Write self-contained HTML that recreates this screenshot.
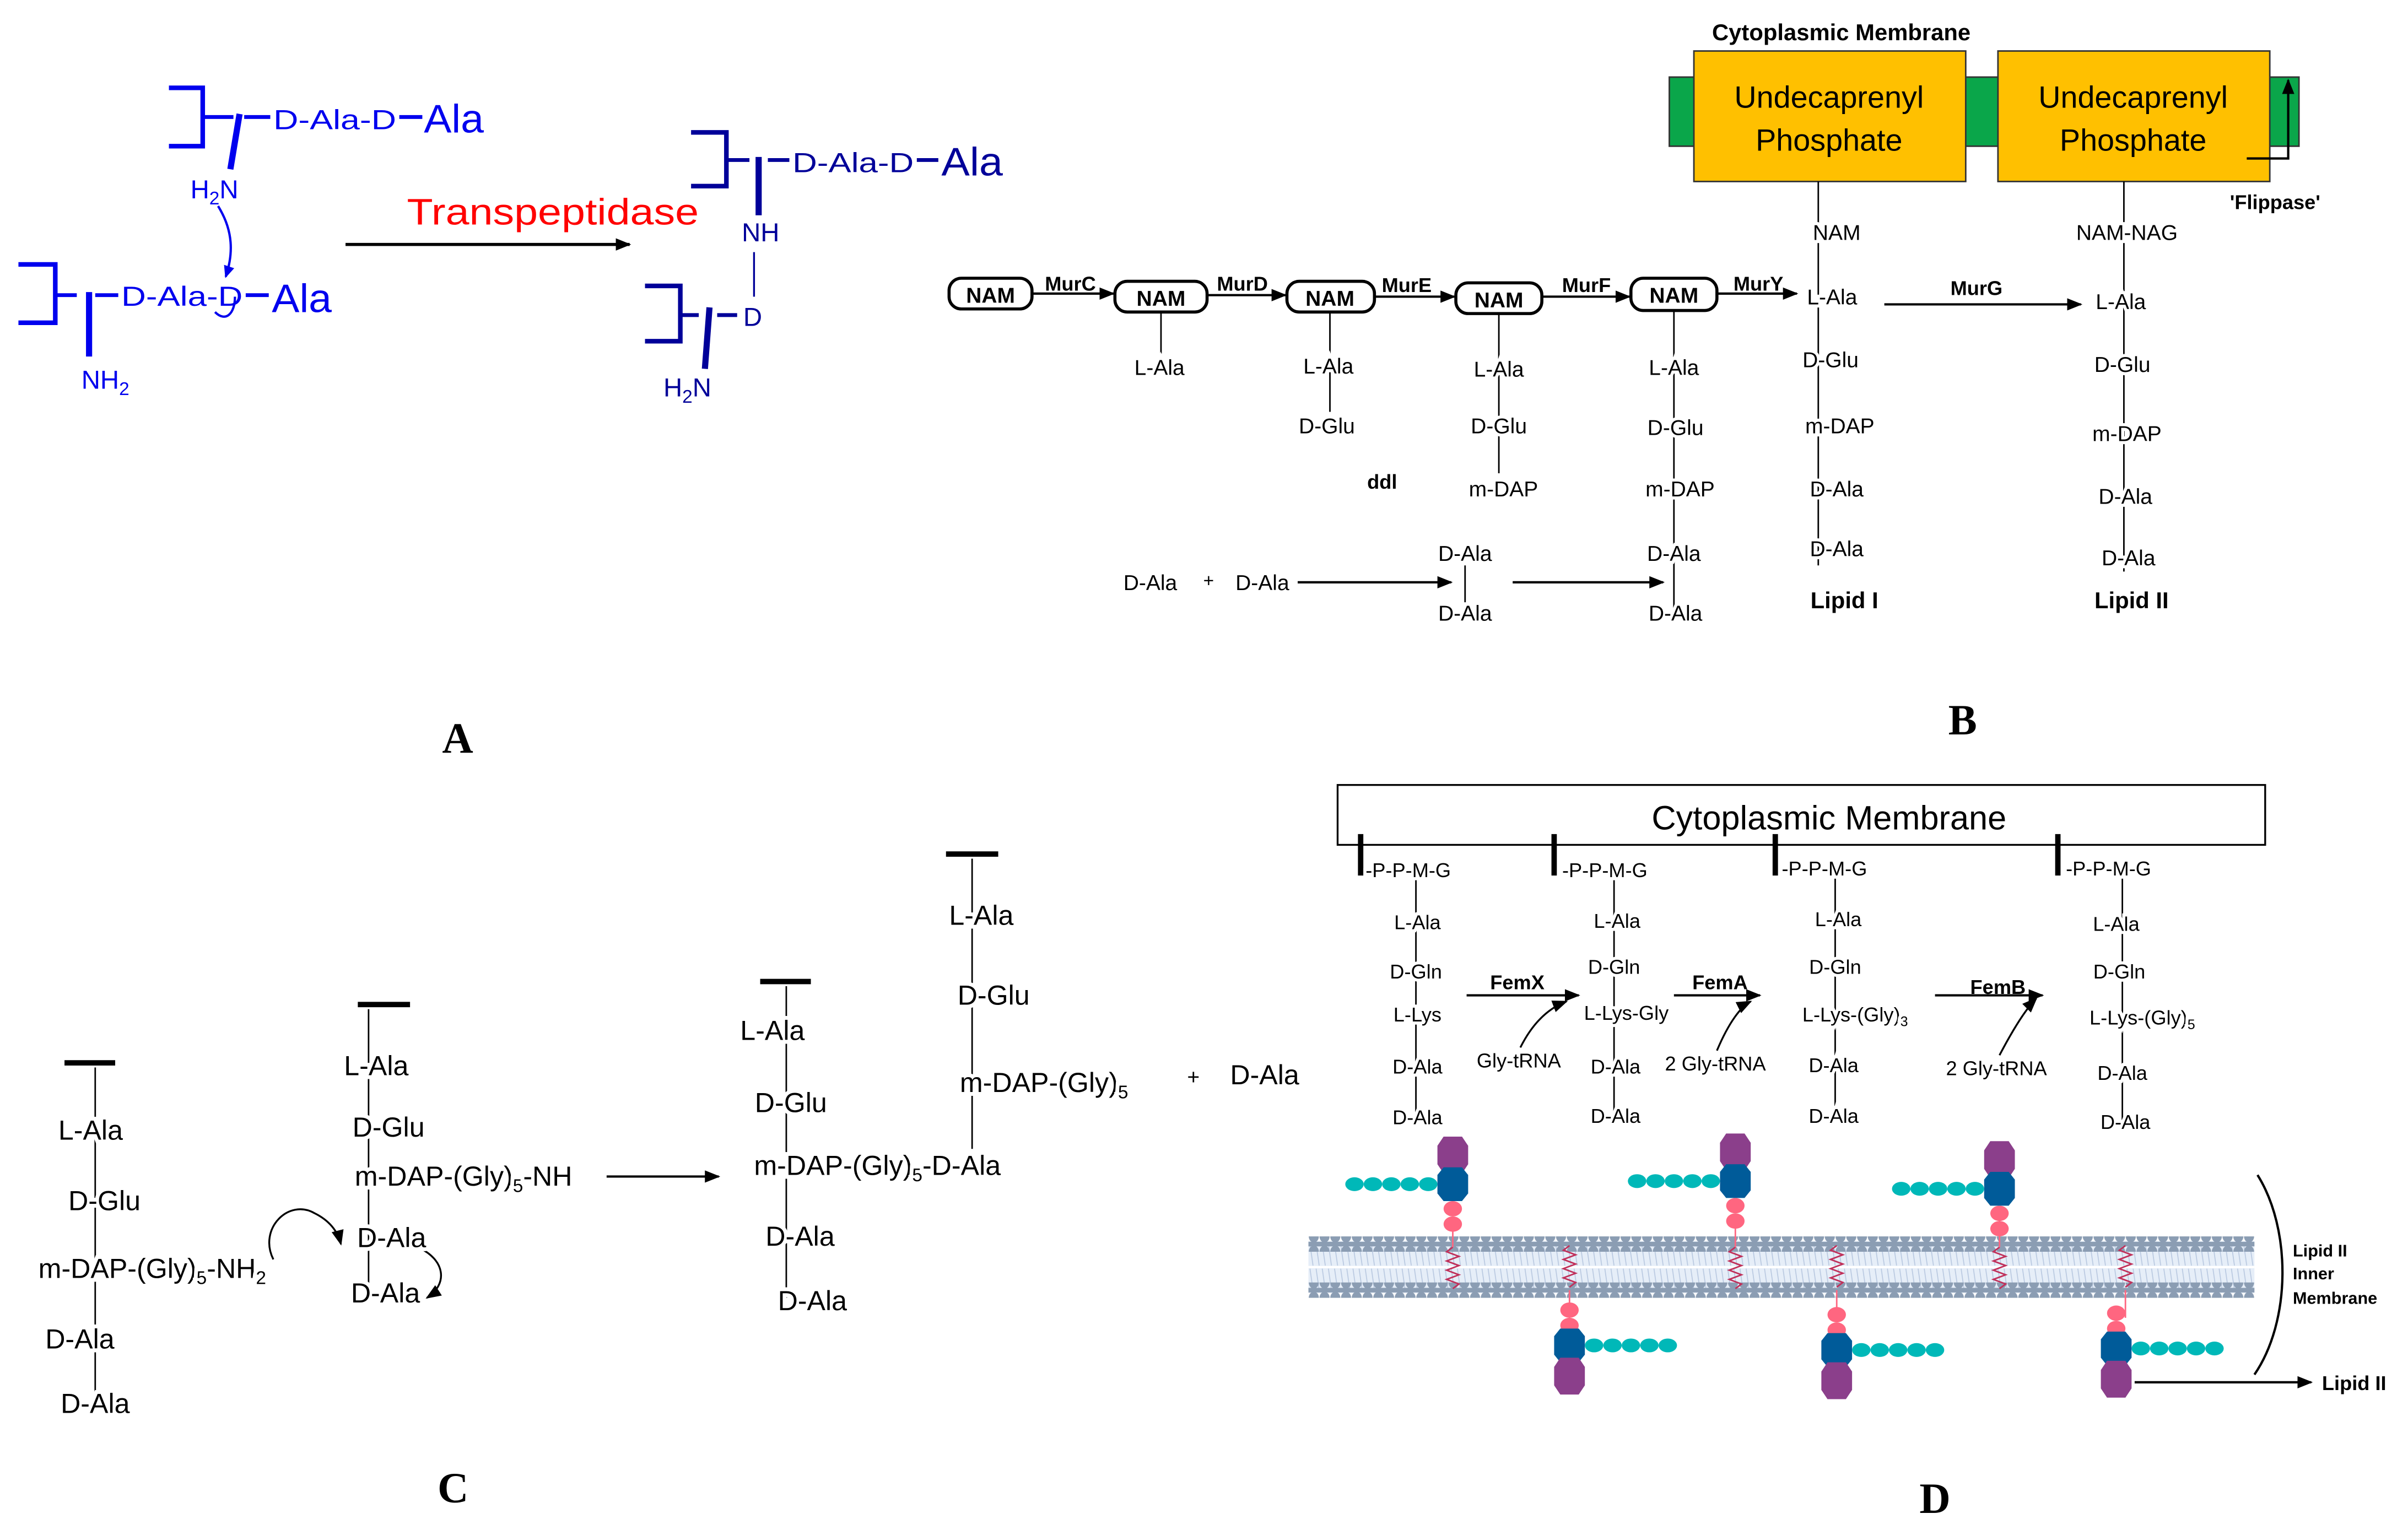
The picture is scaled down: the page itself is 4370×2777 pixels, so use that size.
<!DOCTYPE html>
<html><head><meta charset="utf-8"><style>
html,body{margin:0;padding:0;background:#fff;}
svg{display:block;}
text{font-family:"Liberation Sans",sans-serif;}
.b{fill:#0000ee;}
.db{fill:#000099;}
.bo{font-weight:bold;}
.sf{font-family:"Liberation Serif",serif;font-weight:bold;font-size:28px;}
</style></head><body>
<svg width="4370" height="2777" viewBox="0 0 1568 996" xmlns="http://www.w3.org/2000/svg">
<defs>
<marker id="ar" markerWidth="10" markerHeight="8" refX="9" refY="4" orient="auto" markerUnits="userSpaceOnUse"><path d="M0,0 L10,4 L0,8 Z" fill="#000"/></marker>
<marker id="arb" markerWidth="8" markerHeight="7" refX="7" refY="3.5" orient="auto" markerUnits="userSpaceOnUse"><path d="M0,0 L8,3.5 L0,7 Z" fill="#0000ee"/></marker>
<pattern id="tails" x="0" y="0" width="4" height="30" patternUnits="userSpaceOnUse"><path d="M1,0 L3,14 M1,16 L3,30" stroke="#b8c8e0" stroke-width="0.6"/></pattern>
<pattern id="heads" x="852" y="0" width="7" height="10" patternUnits="userSpaceOnUse"><ellipse cx="3.5" cy="5" rx="3.3" ry="4" fill="#8b9db3"/></pattern>
</defs>

<!-- ===== Panel A ===== -->
<g stroke="#0000ee" fill="none">
 <path d="M110,57 H132 V95 H110" stroke-width="3"/>
 <path d="M132,76 H152 M159,76 H176 M260,76 H275" stroke-width="2.5"/>
 <path d="M156,74 L150,110" stroke-width="4"/>
 <path d="M142,134 C152,150 152,165 147,180" stroke-width="1.5" marker-end="url(#arb)"/>
 <path d="M12,172 H36 V210 H12" stroke-width="3"/>
 <path d="M36,192 H50 M62,192 H77 M160,192 H175" stroke-width="2.5"/>
 <path d="M58,190 V232" stroke-width="4"/>
 <path d="M153,193 C153,204 147,210 140,203" stroke-width="1.5"/>
</g>
<text x="178" y="84" class="b" font-size="18" textLength="80" lengthAdjust="spacingAndGlyphs">D-Ala-D</text>
<text x="276" y="86" class="b" font-size="26" textLength="39" lengthAdjust="spacingAndGlyphs">Ala</text>
<text x="124" y="129" class="b" font-size="17">H<tspan font-size="12" dy="4">2</tspan><tspan dy="-4">N</tspan></text>
<text x="79" y="199" class="b" font-size="18" textLength="79" lengthAdjust="spacingAndGlyphs">D-Ala-D</text>
<text x="177" y="203" class="b" font-size="26" textLength="39" lengthAdjust="spacingAndGlyphs">Ala</text>
<text x="53" y="253" class="b" font-size="17">NH<tspan font-size="12" dy="4">2</tspan></text>
<line x1="225" y1="159" x2="410" y2="159" stroke="#000" stroke-width="2" marker-end="url(#ar)"/>
<text x="265" y="146" fill="#ff0000" font-size="24" textLength="190" lengthAdjust="spacingAndGlyphs">Transpeptidase</text>
<g stroke="#000099" fill="none">
 <path d="M450,86 H473 V121 H450" stroke-width="3"/>
 <path d="M473,104 H488 M500,104 H514 M597,104 H611" stroke-width="2.5"/>
 <path d="M494,102 V140" stroke-width="4"/>
 <path d="M491,164 V193" stroke-width="1.2"/>
 <path d="M420,186 H443 V222 H420" stroke-width="3"/>
 <path d="M443,205 H455 M467,205 H480" stroke-width="2.5"/>
 <path d="M462,200 L459,240" stroke-width="4"/>
</g>
<text x="516" y="112" class="db" font-size="18" textLength="79" lengthAdjust="spacingAndGlyphs">D-Ala-D</text>
<text x="613" y="114" class="db" font-size="26" textLength="40" lengthAdjust="spacingAndGlyphs">Ala</text>
<text x="483" y="157" class="db" font-size="17">NH</text>
<text x="484" y="212" class="db" font-size="17">D</text>
<text x="432" y="258" class="db" font-size="17">H<tspan font-size="12" dy="4">2</tspan><tspan dy="-4">N</tspan></text>
<text x="298" y="490" class="sf" text-anchor="middle">A</text>

<!-- ===== Panel B ===== -->
<text x="1199" y="26" class="bo" font-size="15" text-anchor="middle">Cytoplasmic Membrane</text>
<rect x="1087" y="50" width="410" height="45" fill="#0aa64a" stroke="#333" stroke-width="1"/>
<rect x="1103" y="33" width="177" height="85" fill="#ffc000" stroke="#333" stroke-width="1"/>
<rect x="1301" y="33" width="177" height="85" fill="#ffc000" stroke="#333" stroke-width="1"/>
<text x="1191" y="70" font-size="20" text-anchor="middle">Undecaprenyl</text>
<text x="1191" y="98" font-size="20" text-anchor="middle">Phosphate</text>
<text x="1389" y="70" font-size="20" text-anchor="middle">Undecaprenyl</text>
<text x="1389" y="98" font-size="20" text-anchor="middle">Phosphate</text>
<path d="M1463,103 H1490 V52" fill="none" stroke="#000" stroke-width="1.5" marker-end="url(#ar)"/>
<text x="1452" y="136" class="bo" font-size="13">'Flippase'</text>

<g fill="#fff" stroke="#000" stroke-width="2">
 <rect x="618" y="181" width="54" height="20" rx="8"/>
 <rect x="726" y="183" width="60" height="20" rx="8"/>
 <rect x="838" y="183" width="57" height="20" rx="8"/>
 <rect x="948" y="184" width="56" height="20" rx="8"/>
 <rect x="1062" y="181" width="56" height="21" rx="8"/>
</g>
<g class="bo" font-size="14" text-anchor="middle">
 <text x="645" y="197">NAM</text><text x="756" y="199">NAM</text><text x="866" y="199">NAM</text><text x="976" y="200">NAM</text><text x="1090" y="197">NAM</text>
</g>
<g stroke="#000" stroke-width="1.5" marker-end="url(#ar)">
 <line x1="672" y1="191" x2="725" y2="191"/>
 <line x1="786" y1="192" x2="837" y2="192"/>
 <line x1="895" y1="193" x2="947" y2="193"/>
 <line x1="1004" y1="193" x2="1061" y2="193"/>
 <line x1="1118" y1="191" x2="1170" y2="191"/>
 <line x1="1227" y1="198" x2="1355" y2="198"/>
 <line x1="845" y1="379" x2="945" y2="379"/>
 <line x1="985" y1="379" x2="1083" y2="379"/>
</g>
<g class="bo" font-size="13" text-anchor="middle">
 <text x="697" y="189">MurC</text><text x="809" y="189">MurD</text><text x="916" y="190">MurE</text><text x="1033" y="190">MurF</text><text x="1145" y="189">MurY</text><text x="1287" y="192">MurG</text><text x="900" y="318">ddl</text>
</g>
<g stroke="#000" stroke-width="1">
 <line x1="756" y1="203" x2="756" y2="230"/>
 <line x1="866" y1="203" x2="866" y2="268"/>
 <line x1="976" y1="204" x2="976" y2="308"/>
 <line x1="1090" y1="202" x2="1090" y2="405"/>
 <line x1="954" y1="368" x2="954" y2="392"/>
 <line x1="1184" y1="118" x2="1184" y2="368"/>
 <line x1="1383" y1="118" x2="1383" y2="372"/>
</g>
<g font-size="14" text-anchor="middle" stroke="#fff" stroke-width="4" paint-order="stroke">
 <text x="755" y="244">L-Ala</text>
 <text x="865" y="243">L-Ala</text>
 <text x="864" y="282">D-Glu</text>
 <text x="976" y="245">L-Ala</text>
 <text x="976" y="282">D-Glu</text>
 <text x="979" y="323">m-DAP</text>
 <text x="1090" y="244">L-Ala</text>
 <text x="1091" y="283">D-Glu</text>
 <text x="1094" y="323">m-DAP</text>
 <text x="1090" y="365">D-Ala</text>
 <text x="1091" y="404">D-Ala</text>
 <text x="954" y="365">D-Ala</text>
 <text x="954" y="404">D-Ala</text>
 <text x="749" y="384">D-Ala</text>
 <text x="787" y="382" font-size="12">+</text>
 <text x="822" y="384">D-Ala</text>
 <text x="1196" y="156">NAM</text>
 <text x="1193" y="198">L-Ala</text>
 <text x="1192" y="239">D-Glu</text>
 <text x="1198" y="282">m-DAP</text>
 <text x="1196" y="323">D-Ala</text>
 <text x="1196" y="362">D-Ala</text>
 <text x="1385" y="156">NAM-NAG</text>
 <text x="1381" y="201">L-Ala</text>
 <text x="1382" y="242">D-Glu</text>
 <text x="1385" y="287">m-DAP</text>
 <text x="1384" y="328">D-Ala</text>
 <text x="1386" y="368">D-Ala</text>
</g>
<text x="1201" y="396" class="bo" font-size="15" text-anchor="middle">Lipid I</text>
<text x="1388" y="396" class="bo" font-size="15" text-anchor="middle">Lipid II</text>
<text x="1278" y="478" class="sf" text-anchor="middle">B</text>

<!-- ===== Panel C ===== -->
<g stroke="#000">
 <line x1="42" y1="692" x2="75" y2="692" stroke-width="3.5"/>
 <line x1="233" y1="654" x2="267" y2="654" stroke-width="3.5"/>
 <line x1="495" y1="639" x2="528" y2="639" stroke-width="3.5"/>
 <line x1="616" y1="556" x2="650" y2="556" stroke-width="3.5"/>
 <g stroke-width="1">
  <line x1="62" y1="695" x2="62" y2="908"/>
  <line x1="240" y1="657" x2="240" y2="842"/>
  <line x1="512" y1="642" x2="512" y2="845"/>
  <line x1="633" y1="559" x2="633" y2="748"/>
 </g>
 <line x1="395" y1="766" x2="468" y2="766" stroke-width="1.5" marker-end="url(#ar)"/>
 <path d="M178,820 C168,800 188,780 205,790 C215,795 220,802 222,810" fill="none" stroke-width="1.2" marker-end="url(#ar)"/>
 <path d="M272,812 C290,820 292,836 278,845" fill="none" stroke-width="1.2" marker-end="url(#ar)"/>
</g>
<g font-size="18" text-anchor="middle" stroke="#fff" stroke-width="5" paint-order="stroke">
 <text x="59" y="742">L-Ala</text>
 <text x="68" y="788">D-Glu</text>
 <text x="52" y="878">D-Ala</text>
 <text x="62" y="920">D-Ala</text>
 <text x="245" y="700">L-Ala</text>
 <text x="253" y="740">D-Glu</text>
 <text x="255" y="812">D-Ala</text>
 <text x="251" y="848">D-Ala</text>
 <text x="503" y="677">L-Ala</text>
 <text x="515" y="724">D-Glu</text>
 <text x="521" y="811">D-Ala</text>
 <text x="529" y="853">D-Ala</text>
 <text x="639" y="602">L-Ala</text>
 <text x="647" y="654">D-Glu</text>
</g>
<g font-size="18">
 <text x="25" y="832" stroke="#fff" stroke-width="5" paint-order="stroke">m-DAP-(Gly)<tspan font-size="12" dy="4">5</tspan><tspan dy="-4">-NH</tspan><tspan font-size="12" dy="4">2</tspan></text>
 <text x="231" y="772" stroke="#fff" stroke-width="5" paint-order="stroke">m-DAP-(Gly)<tspan font-size="12" dy="4">5</tspan><tspan dy="-4">-NH</tspan></text>
 <text x="491" y="765" stroke="#fff" stroke-width="5" paint-order="stroke">m-DAP-(Gly)<tspan font-size="12" dy="4">5</tspan><tspan dy="-4">-D-Ala</tspan></text>
 <text x="625" y="711" stroke="#fff" stroke-width="5" paint-order="stroke">m-DAP-(Gly)<tspan font-size="12" dy="4">5</tspan></text>
 <text x="773" y="706" font-size="14">+</text>
 <text x="801" y="706">D-Ala</text>
</g>
<text x="295" y="978" class="sf" text-anchor="middle">C</text>

<!-- ===== Panel D ===== -->
<rect x="871" y="511" width="604" height="39" fill="#fff" stroke="#000" stroke-width="1.2"/>
<text x="1191" y="540" font-size="22" text-anchor="middle">Cytoplasmic Membrane</text>
<g stroke="#000" stroke-width="3.5">
 <line x1="886" y1="543" x2="886" y2="570"/><line x1="1012" y1="543" x2="1012" y2="570"/><line x1="1156" y1="543" x2="1156" y2="570"/><line x1="1340" y1="543" x2="1340" y2="570"/>
</g>
<g stroke="#000" stroke-width="1">
 <line x1="922" y1="572" x2="922" y2="728"/>
 <line x1="1051" y1="572" x2="1051" y2="728"/>
 <line x1="1195" y1="572" x2="1195" y2="728"/>
 <line x1="1382" y1="572" x2="1382" y2="730"/>
 <line x1="955" y1="648" x2="1028" y2="648" stroke-width="1.5" marker-end="url(#ar)"/>
 <line x1="1090" y1="648" x2="1146" y2="648" stroke-width="1.5" marker-end="url(#ar)"/>
 <line x1="1260" y1="648" x2="1330" y2="648" stroke-width="1.5" marker-end="url(#ar)"/>
 <path d="M990,682 C1000,662 1012,655 1020,652" fill="none" stroke-width="1.2" marker-end="url(#ar)"/>
 <path d="M1118,684 C1126,665 1134,655 1140,652" fill="none" stroke-width="1.2" marker-end="url(#ar)"/>
 <path d="M1302,687 C1312,668 1320,656 1326,650" fill="none" stroke-width="1.2" marker-end="url(#ar)"/>
</g>
<g font-size="13" text-anchor="middle">
 <g stroke="#fff" stroke-width="4" paint-order="stroke">
 <text x="917" y="571">-P-P-M-G</text><text x="923" y="605">L-Ala</text><text x="922" y="637">D-Gln</text><text x="923" y="665">L-Lys</text><text x="923" y="699">D-Ala</text><text x="923" y="732">D-Ala</text>
 <text x="1045" y="571">-P-P-M-G</text><text x="1053" y="604">L-Ala</text><text x="1051" y="634">D-Gln</text><text x="1059" y="664">L-Lys-Gly</text><text x="1052" y="699">D-Ala</text><text x="1052" y="731">D-Ala</text>
 <text x="1188" y="570">-P-P-M-G</text><text x="1197" y="603">L-Ala</text><text x="1195" y="634">D-Gln</text><text x="1208" y="665">L-Lys-(Gly)<tspan font-size="9" dy="3">3</tspan></text><text x="1194" y="698">D-Ala</text><text x="1194" y="731">D-Ala</text>
 <text x="1373" y="570">-P-P-M-G</text><text x="1378" y="606">L-Ala</text><text x="1380" y="637">D-Gln</text><text x="1395" y="667">L-Lys-(Gly)<tspan font-size="9" dy="3">5</tspan></text><text x="1382" y="703">D-Ala</text><text x="1384" y="735">D-Ala</text>
 </g>
 <text x="989" y="695">Gly-tRNA</text><text x="1117" y="697">2 Gly-tRNA</text><text x="1300" y="700">2 Gly-tRNA</text>
 <text x="988" y="644" class="bo">FemX</text><text x="1120" y="644" class="bo">FemA</text><text x="1301" y="647" class="bo">FemB</text>
</g>

<!-- membrane -->
<rect x="852" y="808" width="616" height="34" fill="#e6eef8"/>
<rect x="852" y="810" width="616" height="30" fill="url(#tails)"/>
<line x1="852" y1="825" x2="1468" y2="825" stroke="#fff" stroke-width="1.5"/>
<rect x="852" y="805" width="616" height="10" fill="url(#heads)"/>
<rect x="852" y="835" width="616" height="10" fill="url(#heads)"/>
<line x1="852" y1="810" x2="1468" y2="810" stroke="#8b9db3" stroke-width="3"/>
<line x1="852" y1="840" x2="1468" y2="840" stroke="#8b9db3" stroke-width="3"/>
<g fill="none" stroke="#c0305a" stroke-width="1">
 <path d="M946,812 l-4,3 l8,3 l-8,3 l8,3 l-8,3 l8,3 l-8,3 l8,3 l-4,3"/>
 <path d="M1130,812 l-4,3 l8,3 l-8,3 l8,3 l-8,3 l8,3 l-8,3 l8,3 l-4,3"/>
 <path d="M1302,812 l-4,3 l8,3 l-8,3 l8,3 l-8,3 l8,3 l-8,3 l8,3 l-4,3"/>
 <path d="M1022,811 l-4,3 l8,3 l-8,3 l8,3 l-8,3 l8,3 l-8,3 l8,3 l-4,3"/>
 <path d="M1196,811 l-4,3 l8,3 l-8,3 l8,3 l-8,3 l8,3 l-8,3 l8,3 l-4,3"/>
 <path d="M1384,811 l-4,3 l8,3 l-8,3 l8,3 l-8,3 l8,3 l-8,3 l8,3 l-4,3"/>
 <path d="M946,792 V812 M1130,792 V812 M1302,792 V812 M1022,840 V858 M1196,840 V858 M1384,840 V858" stroke="#ff6680"/>
</g>
<g>
 <g transform="translate(946,0)">
  <path d="M-10,746 L-6,740 H6 L10,746 V758 L6,764 H-6 L-10,758 Z" fill="#8b3f8b"/>
  <path d="M-10,765 L-6,760 H6 L10,765 V777 L6,782 H-6 L-10,777 Z" fill="#005b99"/>
  <ellipse cx="0" cy="787" rx="6" ry="5" fill="#ff6680"/><ellipse cx="0" cy="797" rx="6" ry="5" fill="#ff6680"/>
  <g fill="#00b8b8"><ellipse cx="-16" cy="771" rx="6" ry="4.5"/><ellipse cx="-28" cy="771" rx="6" ry="4.5"/><ellipse cx="-40" cy="771" rx="6" ry="4.5"/><ellipse cx="-52" cy="771" rx="6" ry="4.5"/><ellipse cx="-64" cy="771" rx="6" ry="4.5"/></g>
 </g>
 <g transform="translate(1130,-2)">
  <path d="M-10,746 L-6,740 H6 L10,746 V758 L6,764 H-6 L-10,758 Z" fill="#8b3f8b"/>
  <path d="M-10,765 L-6,760 H6 L10,765 V777 L6,782 H-6 L-10,777 Z" fill="#005b99"/>
  <ellipse cx="0" cy="787" rx="6" ry="5" fill="#ff6680"/><ellipse cx="0" cy="797" rx="6" ry="5" fill="#ff6680"/>
  <g fill="#00b8b8"><ellipse cx="-16" cy="771" rx="6" ry="4.5"/><ellipse cx="-28" cy="771" rx="6" ry="4.5"/><ellipse cx="-40" cy="771" rx="6" ry="4.5"/><ellipse cx="-52" cy="771" rx="6" ry="4.5"/><ellipse cx="-64" cy="771" rx="6" ry="4.5"/></g>
 </g>
 <g transform="translate(1302,3)">
  <path d="M-10,746 L-6,740 H6 L10,746 V758 L6,764 H-6 L-10,758 Z" fill="#8b3f8b"/>
  <path d="M-10,765 L-6,760 H6 L10,765 V777 L6,782 H-6 L-10,777 Z" fill="#005b99"/>
  <ellipse cx="0" cy="787" rx="6" ry="5" fill="#ff6680"/><ellipse cx="0" cy="797" rx="6" ry="5" fill="#ff6680"/>
  <g fill="#00b8b8"><ellipse cx="-16" cy="771" rx="6" ry="4.5"/><ellipse cx="-28" cy="771" rx="6" ry="4.5"/><ellipse cx="-40" cy="771" rx="6" ry="4.5"/><ellipse cx="-52" cy="771" rx="6" ry="4.5"/><ellipse cx="-64" cy="771" rx="6" ry="4.5"/></g>
 </g>
 <g transform="translate(1022,0)">
  <ellipse cx="0" cy="853" rx="6" ry="5" fill="#ff6680"/><ellipse cx="0" cy="863" rx="6" ry="5" fill="#ff6680"/>
  <path d="M-10,870 L-6,865 H6 L10,870 V882 L6,887 H-6 L-10,882 Z" fill="#005b99"/>
  <path d="M-10,890 L-6,884 H6 L10,890 V902 L6,908 H-6 L-10,902 Z" fill="#8b3f8b"/>
  <g fill="#00b8b8"><ellipse cx="16" cy="876" rx="6" ry="4.5"/><ellipse cx="28" cy="876" rx="6" ry="4.5"/><ellipse cx="40" cy="876" rx="6" ry="4.5"/><ellipse cx="52" cy="876" rx="6" ry="4.5"/><ellipse cx="64" cy="876" rx="6" ry="4.5"/></g>
 </g>
 <g transform="translate(1196,3)">
  <ellipse cx="0" cy="853" rx="6" ry="5" fill="#ff6680"/><ellipse cx="0" cy="863" rx="6" ry="5" fill="#ff6680"/>
  <path d="M-10,870 L-6,865 H6 L10,870 V882 L6,887 H-6 L-10,882 Z" fill="#005b99"/>
  <path d="M-10,890 L-6,884 H6 L10,890 V902 L6,908 H-6 L-10,902 Z" fill="#8b3f8b"/>
  <g fill="#00b8b8"><ellipse cx="16" cy="876" rx="6" ry="4.5"/><ellipse cx="28" cy="876" rx="6" ry="4.5"/><ellipse cx="40" cy="876" rx="6" ry="4.5"/><ellipse cx="52" cy="876" rx="6" ry="4.5"/><ellipse cx="64" cy="876" rx="6" ry="4.5"/></g>
 </g>
 <g transform="translate(1378,2)">
  <ellipse cx="0" cy="853" rx="6" ry="5" fill="#ff6680"/><ellipse cx="0" cy="863" rx="6" ry="5" fill="#ff6680"/>
  <path d="M-10,870 L-6,865 H6 L10,870 V882 L6,887 H-6 L-10,882 Z" fill="#005b99"/>
  <path d="M-10,890 L-6,884 H6 L10,890 V902 L6,908 H-6 L-10,902 Z" fill="#8b3f8b"/>
  <g fill="#00b8b8"><ellipse cx="16" cy="876" rx="6" ry="4.5"/><ellipse cx="28" cy="876" rx="6" ry="4.5"/><ellipse cx="40" cy="876" rx="6" ry="4.5"/><ellipse cx="52" cy="876" rx="6" ry="4.5"/><ellipse cx="64" cy="876" rx="6" ry="4.5"/></g>
 </g>
</g>
<path d="M1470,765 C1492,800 1492,860 1468,895" fill="none" stroke="#000" stroke-width="1.5"/>
<g class="bo" font-size="11"><text x="1493" y="818">Lipid II</text><text x="1493" y="833">Inner</text><text x="1493" y="849">Membrane</text></g>
<line x1="1390" y1="900" x2="1505" y2="900" stroke="#000" stroke-width="1.5" marker-end="url(#ar)"/>
<text x="1512" y="905" class="bo" font-size="13">Lipid II</text>
<text x="1260" y="985" class="sf" text-anchor="middle">D</text>
</svg>
</body></html>
